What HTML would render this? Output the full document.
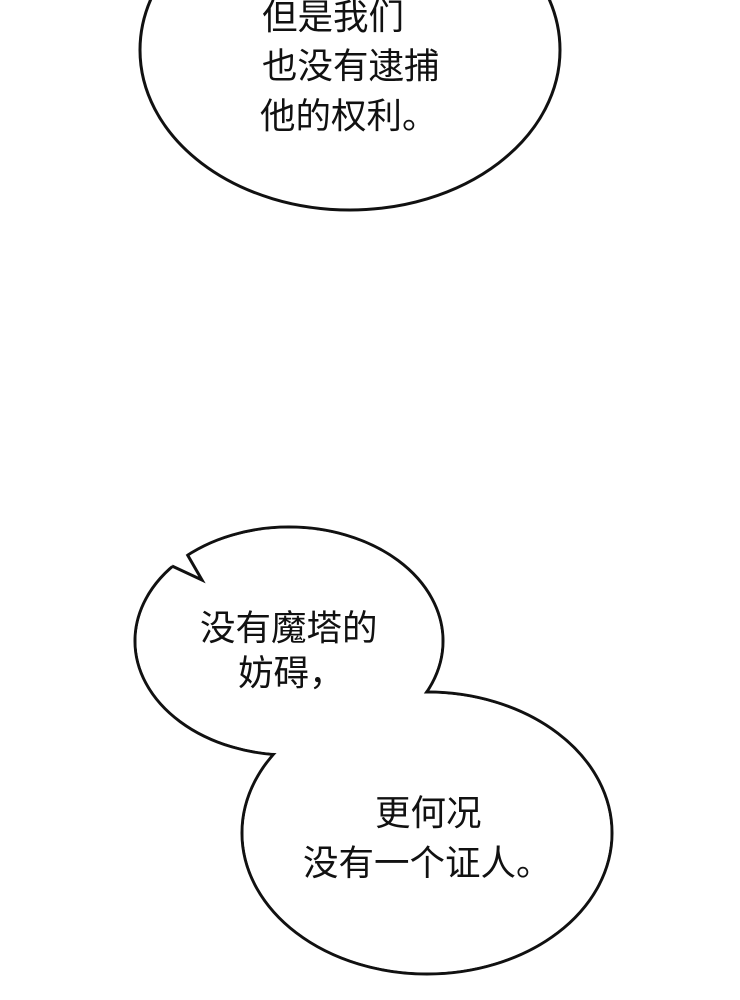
<!DOCTYPE html>
<html><head><meta charset="utf-8"><style>
html,body{margin:0;padding:0;background:#fff;width:740px;height:1000px;overflow:hidden}
svg{display:block}
text{font-family:"Liberation Sans","Noto Sans CJK SC",sans-serif;font-size:35.5px;fill:#111}
</style></head><body>
<svg width="740" height="1000" viewBox="0 0 740 1000">
<ellipse cx="350" cy="50" rx="210" ry="160" fill="#fff" stroke="#111" stroke-width="3"/>
<text x="262" y="29">但是我们</text>
<text x="262" y="78">也没有逮捕</text>
<text x="260" y="128">他的权利。</text>

<ellipse cx="289" cy="641" rx="154" ry="114" fill="#fff" stroke="#111" stroke-width="3"/>
<ellipse cx="427" cy="833" rx="185" ry="141" fill="#fff" stroke="#111" stroke-width="3"/>
<ellipse cx="289" cy="641" rx="152.5" ry="112.5" fill="#fff"/>
<ellipse cx="427" cy="833" rx="183.5" ry="139.5" fill="#fff"/>
<polygon points="168,562 172,566 202,580 187,554 185,549" fill="#fff"/>
<polyline points="172,566 202,580 187,554" fill="none" stroke="#111" stroke-width="3" stroke-linejoin="miter"/>
<text x="200" y="640">没有魔塔的</text>
<text x="238" y="685">妨碍，</text>
<text x="375" y="825">更何况</text>
<text x="303" y="875">没有一个证人。</text>
</svg>
</body></html>
